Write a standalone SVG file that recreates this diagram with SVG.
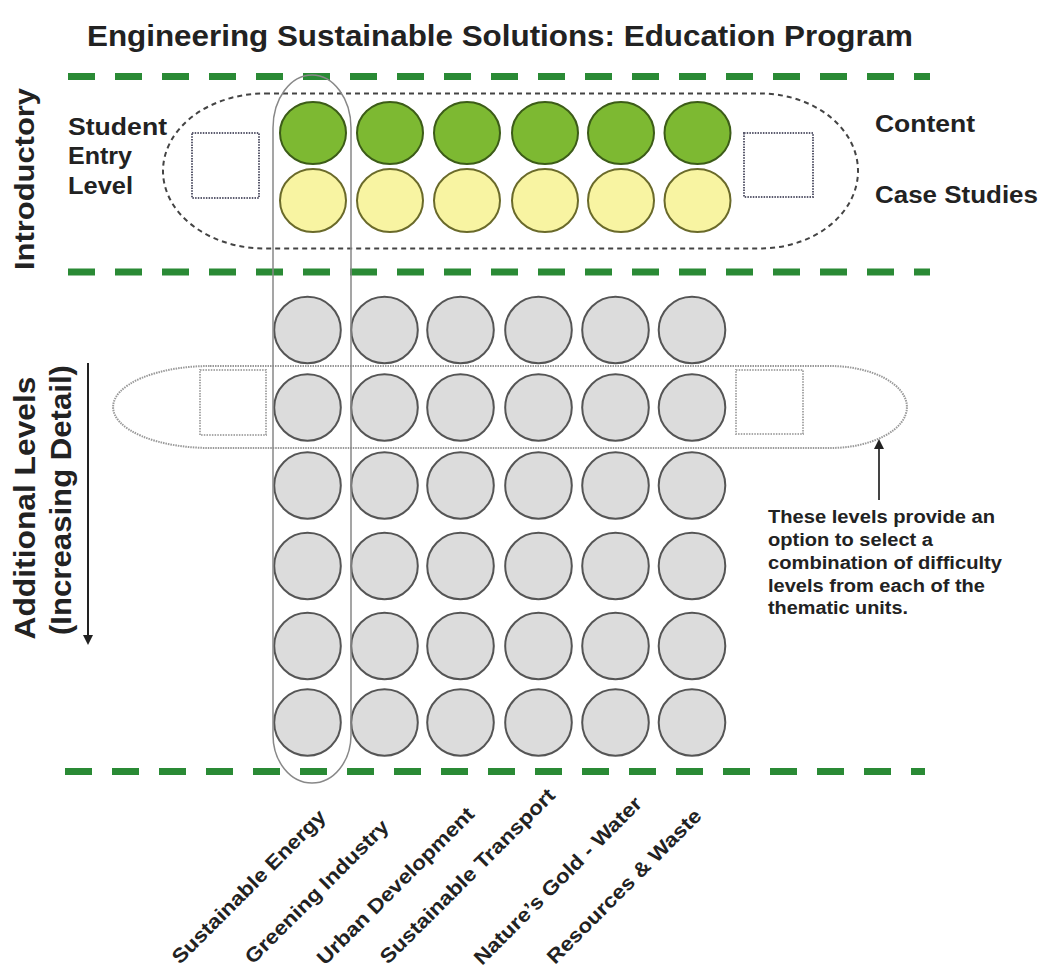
<svg xmlns="http://www.w3.org/2000/svg" width="1045" height="974" viewBox="0 0 1045 974">
<style>
text{font-family:"Liberation Sans",Arial,sans-serif;font-weight:bold;fill:#222}
.gl{stroke:#2a8a35;stroke-width:7;stroke-dasharray:27 20;fill:none}
.gr{fill:#7db932;stroke:#3c5c18;stroke-width:2}
.ye{fill:#f8f4a2;stroke:#6a6a2a;stroke-width:2}
.gy{fill:#dcdcdc;stroke:#555;stroke-width:2}
.sq{fill:none;stroke:#5b5b6e;stroke-width:2;stroke-dasharray:1.5 1.2}
.sq2{fill:none;stroke:#aaa;stroke-width:2;stroke-dasharray:1.5 1.2}
.lbl{font-size:20px}
</style>
<defs>
<marker id="ah" markerWidth="10" markerHeight="10" refX="5" refY="5" orient="auto" markerUnits="userSpaceOnUse">
<path d="M0,0 L10,5 L0,10 Z" fill="#222"/>
</marker>
</defs>
<rect width="1045" height="974" fill="#fff"/>
<text x="87" y="46" font-size="30" textLength="826" lengthAdjust="spacingAndGlyphs">Engineering Sustainable Solutions: Education Program</text>
<g id="bands">
<line class="gl" x1="68" y1="76.5" x2="930" y2="76.5"/>
<line class="gl" x1="68" y1="272" x2="930" y2="272"/>
<line class="gl" x1="65" y1="771.5" x2="925" y2="771.5"/>
</g>
<g id="side-labels">
<text transform="translate(34,179) rotate(-90)" font-size="28" text-anchor="middle" textLength="182" lengthAdjust="spacingAndGlyphs">Introductory</text>
<text transform="translate(35,508) rotate(-90)" font-size="29" text-anchor="middle" textLength="263" lengthAdjust="spacingAndGlyphs">Additional Levels</text>
<text transform="translate(71,500) rotate(-90)" font-size="29" text-anchor="middle" textLength="270" lengthAdjust="spacingAndGlyphs">(Increasing Detail)</text>
</g>
<g id="entry-label">
<text x="68" y="135" font-size="23" textLength="99" lengthAdjust="spacingAndGlyphs">Student</text>
<text x="68" y="164" font-size="23" textLength="64" lengthAdjust="spacingAndGlyphs">Entry</text>
<text x="68" y="194" font-size="23" textLength="65" lengthAdjust="spacingAndGlyphs">Level</text>
</g>
<g id="content-label"><text x="875" y="132" font-size="23" textLength="100" lengthAdjust="spacingAndGlyphs">Content</text></g>
<g id="case-label"><text x="875" y="203" font-size="23" textLength="163" lengthAdjust="spacingAndGlyphs">Case Studies</text></g>
<g id="intro-group">
<path d="M265 93.5 H760 A98 77.5 0 0 1 760 248.5 H265 A102 77.5 0 0 1 265 93.5 Z" fill="none" stroke="#444" stroke-width="2" stroke-dasharray="5 4"/>
<rect class="sq" x="192" y="133" width="67" height="65"/>
<rect class="sq" x="744" y="133" width="69" height="64"/>
</g>
<g id="content-row">
<ellipse class="gr" cx="313" cy="133" rx="33" ry="31"/>
<ellipse class="gr" cx="390" cy="133" rx="33" ry="31"/>
<ellipse class="gr" cx="467" cy="133" rx="33" ry="31"/>
<ellipse class="gr" cx="545" cy="133" rx="33" ry="31"/>
<ellipse class="gr" cx="621" cy="133" rx="33" ry="31"/>
<ellipse class="gr" cx="697.5" cy="133" rx="33" ry="31"/>
</g>
<g id="case-row">
<ellipse class="ye" cx="313" cy="200.5" rx="33" ry="31.5"/>
<ellipse class="ye" cx="390" cy="200.5" rx="33" ry="31.5"/>
<ellipse class="ye" cx="467" cy="200.5" rx="33" ry="31.5"/>
<ellipse class="ye" cx="545" cy="200.5" rx="33" ry="31.5"/>
<ellipse class="ye" cx="621" cy="200.5" rx="33" ry="31.5"/>
<ellipse class="ye" cx="697.5" cy="200.5" rx="33" ry="31.5"/>
</g>
<g id="levels-grid">
<g transform="translate(0,330)">
<circle class="gy" cx="307.5" cy="0" r="33.3"/><circle class="gy" cx="384.5" cy="0" r="33.3"/><circle class="gy" cx="460.5" cy="0" r="33.3"/><circle class="gy" cx="538.5" cy="0" r="33.3"/><circle class="gy" cx="615.5" cy="0" r="33.3"/><circle class="gy" cx="692" cy="0" r="33.3"/>
</g>
<g transform="translate(0,407.5)">
<circle class="gy" cx="307.5" cy="0" r="33.3"/><circle class="gy" cx="384.5" cy="0" r="33.3"/><circle class="gy" cx="460.5" cy="0" r="33.3"/><circle class="gy" cx="538.5" cy="0" r="33.3"/><circle class="gy" cx="615.5" cy="0" r="33.3"/><circle class="gy" cx="692" cy="0" r="33.3"/>
</g>
<g transform="translate(0,485.5)">
<circle class="gy" cx="307.5" cy="0" r="33.3"/><circle class="gy" cx="384.5" cy="0" r="33.3"/><circle class="gy" cx="460.5" cy="0" r="33.3"/><circle class="gy" cx="538.5" cy="0" r="33.3"/><circle class="gy" cx="615.5" cy="0" r="33.3"/><circle class="gy" cx="692" cy="0" r="33.3"/>
</g>
<g transform="translate(0,566)">
<circle class="gy" cx="307.5" cy="0" r="33.3"/><circle class="gy" cx="384.5" cy="0" r="33.3"/><circle class="gy" cx="460.5" cy="0" r="33.3"/><circle class="gy" cx="538.5" cy="0" r="33.3"/><circle class="gy" cx="615.5" cy="0" r="33.3"/><circle class="gy" cx="692" cy="0" r="33.3"/>
</g>
<g transform="translate(0,646)">
<circle class="gy" cx="307.5" cy="0" r="33.3"/><circle class="gy" cx="384.5" cy="0" r="33.3"/><circle class="gy" cx="460.5" cy="0" r="33.3"/><circle class="gy" cx="538.5" cy="0" r="33.3"/><circle class="gy" cx="615.5" cy="0" r="33.3"/><circle class="gy" cx="692" cy="0" r="33.3"/>
</g>
<g transform="translate(0,722.5)">
<circle class="gy" cx="307.5" cy="0" r="33.3"/><circle class="gy" cx="384.5" cy="0" r="33.3"/><circle class="gy" cx="460.5" cy="0" r="33.3"/><circle class="gy" cx="538.5" cy="0" r="33.3"/><circle class="gy" cx="615.5" cy="0" r="33.3"/><circle class="gy" cx="692" cy="0" r="33.3"/>
</g>
</g>
<g id="level-selection">
<path d="M210 366 H830 A77 41 0 0 1 830 448 H210 A97 41 0 0 1 210 366 Z" fill="none" stroke="#999" stroke-width="2" stroke-dasharray="1.5 1"/>
<rect class="sq2" x="200" y="370" width="66" height="65"/>
<rect class="sq2" x="736" y="370" width="67" height="64"/>
</g>
<g id="theme-column">
<path d="M273 128 A39 53 0 0 1 351 128 V735 A39 48 0 0 1 273 735 Z" fill="none" stroke="#888" stroke-width="1.5"/>
</g>
<g id="connectors">
<line x1="88" y1="363" x2="88" y2="640" stroke="#222" stroke-width="2" marker-end="url(#ah)"/>
<line x1="879" y1="500" x2="879" y2="444" stroke="#444" stroke-width="2" marker-end="url(#ah)"/>
</g>
<g id="callout">
<text x="768" y="523" font-size="18" textLength="227" lengthAdjust="spacingAndGlyphs">These levels provide an</text>
<text x="768" y="546" font-size="18" textLength="165" lengthAdjust="spacingAndGlyphs">option to select a</text>
<text x="768" y="569" font-size="18" textLength="234" lengthAdjust="spacingAndGlyphs">combination of difficulty</text>
<text x="768" y="592" font-size="18" textLength="217" lengthAdjust="spacingAndGlyphs">levels from each of the</text>
<text x="768" y="614" font-size="18" textLength="140" lengthAdjust="spacingAndGlyphs">thematic units.</text>
</g>
<g id="theme-labels">
<text class="lbl" transform="translate(180,965) rotate(-45)" textLength="208" lengthAdjust="spacingAndGlyphs">Sustainable Energy</text>
<text class="lbl" transform="translate(253,965) rotate(-45)" textLength="194" lengthAdjust="spacingAndGlyphs">Greening Industry</text>
<text class="lbl" transform="translate(325,966) rotate(-45)" textLength="213" lengthAdjust="spacingAndGlyphs">Urban Development</text>
<text class="lbl" transform="translate(388,965) rotate(-45)" textLength="238" lengthAdjust="spacingAndGlyphs">Sustainable Transport</text>
<text class="lbl" transform="translate(482,966) rotate(-45)" textLength="228" lengthAdjust="spacingAndGlyphs">Nature’s Gold - Water</text>
<text class="lbl" transform="translate(555,965) rotate(-45)" textLength="209" lengthAdjust="spacingAndGlyphs">Resources &amp; Waste</text>
</g>
</svg>
